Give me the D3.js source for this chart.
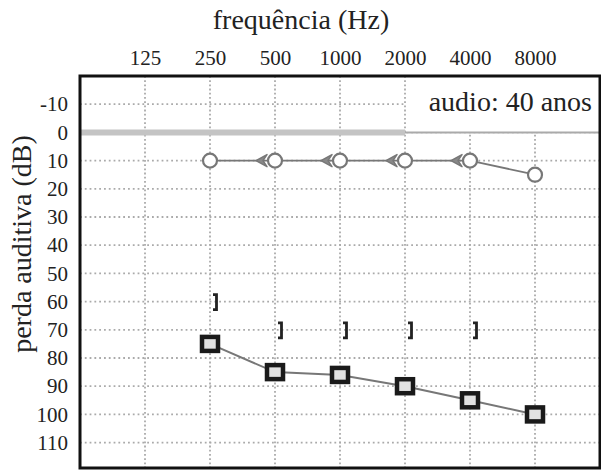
<!DOCTYPE html>
<html>
<head>
<meta charset="utf-8">
<script src="https://d3js.org/d3.v7.min.js"></script>
</head>
<body style="margin:0">
<div id="chart"></div>
<script>
// data
var freqs = [125, 250, 500, 1000, 2000, 4000, 8000];
var dbTicks = [-10, 0, 10, 20, 30, 40, 50, 60, 70, 80, 90, 100, 110];

// circles (air conduction)
var airFreqs = [250, 500, 1000, 2000, 4000, 8000];
var airValues = [10, 10, 10, 10, 10, 15];

// "<" markers (bone conduction)
var boneFreqs = [500, 1000, 2000, 4000];
var boneValues = [10, 10, 10, 10];

// "]" markers
var bracketFreqs = [250, 500, 1000, 2000, 4000];
var bracketValues = [60, 70, 70, 70, 70];

// squares
var sqFreqs = [250, 500, 1000, 2000, 4000, 8000];
var sqValues = [75, 85, 86, 90, 95, 100];

var svgWidth = 601;
var svgHeight = 471;

var margin = { top: 76, right: 1, bottom: 3, left: 80 };
var chartWidth = svgWidth - margin.left - margin.right;
var chartHeight = svgHeight - margin.top - margin.bottom;

var svg = d3.select('#chart').append('svg')
    .attr('width', svgWidth)
    .attr('height', svgHeight)
    .attr('font-family', 'Liberation Serif')
    .style('font-family', '"Liberation Serif"');

// plain helper so every label gets the same font
function label(sel) {
    return sel.attr('font-family', 'Liberation Serif')
        .style('font-family', '"Liberation Serif"')
        .attr('fill', '#222');
}

var chartGroup = svg.append('g')
    .attr('transform', `translate(${margin.left}, ${margin.top})`);

// scales
var xscale = d3.scaleLog().base(2)
    .domain([62.5, 16000])
    .range([0, chartWidth]);

var yscale = d3.scaleLinear()
    .domain([-20, 119])
    .range([0, chartHeight]);

// grid
chartGroup.selectAll('.hgrid')
    .data(dbTicks)
    .enter()
    .append('line')
    .attr('x1', 0)
    .attr('x2', chartWidth)
    .attr('y1', d => yscale(d))
    .attr('y2', d => yscale(d))
    .attr('stroke', '#aaa')
    .attr('stroke-width', 1.8)
    .attr('stroke-dasharray', '1.8,3');

chartGroup.selectAll('.vgrid')
    .data(freqs)
    .enter()
    .append('line')
    .attr('x1', d => xscale(d))
    .attr('x2', d => xscale(d))
    .attr('y1', 0)
    .attr('y2', chartHeight)
    .attr('stroke', '#aaa')
    .attr('stroke-width', 1.8)
    .attr('stroke-dasharray', '1.8,2.4');

// label box top right covers the grid
chartGroup.append('rect')
    .attr('x', xscale(2000) + 1)
    .attr('y', 0)
    .attr('width', chartWidth - xscale(2000))
    .attr('height', yscale(0))
    .attr('fill', '#fff');

// 0 dB reference line: thick to 2000, thin after
chartGroup.append('line')
    .attr('x1', 0)
    .attr('x2', xscale(2000))
    .attr('y1', yscale(0))
    .attr('y2', yscale(0))
    .attr('stroke', '#c4c4c4')
    .attr('stroke-width', 6);

chartGroup.append('line')
    .attr('x1', xscale(2000))
    .attr('x2', chartWidth)
    .attr('y1', yscale(0))
    .attr('y2', yscale(0))
    .attr('stroke', '#aaa')
    .attr('stroke-width', 2);

chartGroup.append('text')
    .attr('x', chartWidth - 8)
    .attr('y', 35)
    .attr('text-anchor', 'end')
    .style('font-size', '28px')
    .call(label)
    .text('audio: 40 anos');

// lines
var line = d3.line()
    .x(d => xscale(d[0]))
    .y(d => yscale(d[1]));

chartGroup.append('path')
    .datum(d3.zip(airFreqs, airValues))
    .attr('d', line)
    .attr('fill', 'none')
    .attr('stroke', '#777')
    .attr('stroke-width', 1.8);

chartGroup.append('path')
    .datum(d3.zip(sqFreqs, sqValues))
    .attr('d', line)
    .attr('fill', 'none')
    .attr('stroke', '#777')
    .attr('stroke-width', 2);

// "<" markers
chartGroup.selectAll('.bone')
    .data(d3.zip(boneFreqs, boneValues))
    .enter()
    .append('path')
    .attr('transform', d => `translate(${xscale(d[0]) - 19}, ${yscale(d[1])})`)
    .attr('d', 'M11,-6 L0,0 L11,6 L7,0 Z')
    .attr('fill', '#888')
    .attr('stroke', '#777')
    .attr('stroke-width', 1.5)
    .attr('stroke-linejoin', 'round');

// circles
chartGroup.selectAll('.air')
    .data(d3.zip(airFreqs, airValues))
    .enter()
    .append('circle')
    .attr('cx', d => xscale(d[0]))
    .attr('cy', d => yscale(d[1]))
    .attr('r', 7)
    .attr('fill', '#fff')
    .attr('stroke', '#777')
    .attr('stroke-width', 2.2);

// "]" markers
chartGroup.selectAll('.bracket')
    .data(d3.zip(bracketFreqs, bracketValues))
    .enter()
    .append('path')
    .attr('transform', d => `translate(${xscale(d[0]) + 3}, ${yscale(d[1])})`)
    .attr('d', 'M0,-7 L3.5,-7 L3.5,8 L0,8')
    .attr('fill', 'none')
    .attr('stroke', '#222')
    .attr('stroke-width', 2.8);

// squares
chartGroup.selectAll('.sq')
    .data(d3.zip(sqFreqs, sqValues))
    .enter()
    .append('rect')
    .attr('x', d => xscale(d[0]) - 8)
    .attr('y', d => yscale(d[1]) - 7)
    .attr('width', 16)
    .attr('height', 14)
    .attr('fill', '#e2e2e2')
    .attr('stroke', '#1a1a1a')
    .attr('stroke-width', 4.5);

// frame
chartGroup.append('rect')
    .attr('x', 0)
    .attr('y', 0)
    .attr('width', chartWidth)
    .attr('height', chartHeight)
    .attr('fill', 'none')
    .attr('stroke', '#111')
    .attr('stroke-width', 3);

// axes
var topaxis = d3.axisTop(xscale).tickValues(freqs).tickSize(0).tickPadding(11).tickFormat(d => d);
var leftaxis = d3.axisLeft(yscale).tickValues(dbTicks).tickSize(0).tickPadding(12).tickFormat(d => d);

var gTop = chartGroup.append('g').call(topaxis);
gTop.select('.domain').remove();
gTop.attr('font-family', 'Liberation Serif').attr('font-size', 21);
gTop.selectAll('text').call(label).style('font-size', '21px');

var gLeft = chartGroup.append('g').call(leftaxis);
gLeft.select('.domain').remove();
gLeft.attr('font-family', 'Liberation Serif').attr('font-size', 21);
gLeft.selectAll('text').call(label).style('font-size', '21px');

// axis titles
svg.append('text')
    .attr('x', 301)
    .attr('y', 29)
    .attr('text-anchor', 'middle')
    .style('font-size', '28px')
    .call(label)
    .text('frequência (Hz)');

svg.append('text')
    .attr('transform', 'rotate(-90)')
    .attr('x', -244)
    .attr('y', 31)
    .attr('text-anchor', 'middle')
    .style('font-size', '28px')
    .call(label)
    .text('perda auditiva (dB)');
</script>
</body>
</html>
